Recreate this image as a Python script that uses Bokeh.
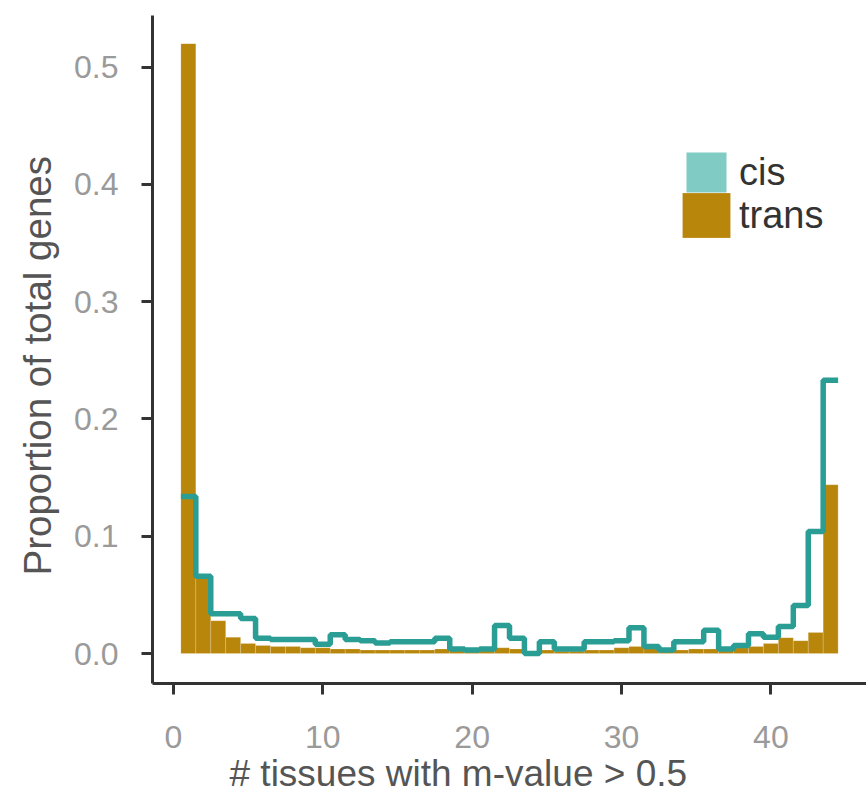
from bokeh.plotting import figure
from bokeh.models import (Range1d, FixedTicker, PrintfTickFormatter, Legend,
                          LegendItem, Title)
from bokeh.embed import file_html
from bokeh.resources import INLINE

# number of tissues (histogram bins)
bins = list(range(1, 45))

# proportion of total genes per bin
trans = [0.520, 0.064, 0.028, 0.014, 0.0085, 0.007, 0.006, 0.006, 0.005, 0.005,
         0.004, 0.004, 0.003, 0.003, 0.003, 0.003, 0.003, 0.004, 0.003, 0.003,
         0.003, 0.005, 0.004, 0.002, 0.003, 0.002, 0.002, 0.003, 0.003, 0.005,
         0.006, 0.005, 0.002, 0.003, 0.004, 0.004, 0.004, 0.005, 0.006, 0.0085,
         0.0136, 0.011, 0.018, 0.144]
cis = [0.134, 0.066, 0.034, 0.034, 0.030, 0.013, 0.012, 0.012, 0.012, 0.008,
       0.016, 0.012, 0.011, 0.009, 0.010, 0.010, 0.010, 0.013, 0.004, 0.003,
       0.004, 0.024, 0.013, 0.000, 0.010, 0.004, 0.004, 0.010, 0.010, 0.011,
       0.022, 0.006, 0.003, 0.010, 0.010, 0.020, 0.004, 0.007, 0.017, 0.014,
       0.023, 0.041, 0.104, 0.233]

x_ticks = [0, 10, 20, 30, 40]
y_ticks = [0.0, 0.1, 0.2, 0.3, 0.4, 0.5]

GOLD = "#B8860B"
TEAL = "#2A9D94"
TEAL_LIGHT = "#80CBC4"
FONT = "Liberation Sans"

p = figure(width=866, height=793, output_backend="svg", toolbar_location=None,
           x_range=Range1d(-1.4, 46.4), y_range=Range1d(-0.0255, 0.544),
           min_border_left=150, min_border_right=0, min_border_top=15,
           min_border_bottom=108)
p.outline_line_color = None
p.xgrid.visible = False
p.ygrid.visible = False

# trans: filled bars
bars = p.vbar(x=bins, top=trans, width=1.0, fill_color=GOLD, line_color="white",
              line_alpha=0.25, line_width=0.7)

# cis: outline step over the bin edges
edges = [b - 0.5 for b in bins] + [bins[-1] + 0.5]
p.step(x=edges, y=cis + [cis[-1]], mode="after", line_color=TEAL, line_width=5.5)

# zero-height bar, only used as the swatch of the cis legend entry
cis_key = p.vbar(x=bins[:1], top=[0], width=1.0, fill_color=TEAL_LIGHT,
                 line_color=None)

for ax in (p.xaxis[0], p.yaxis[0]):
    ax.axis_line_width = 3
    ax.axis_line_color = "#333333"
    ax.major_tick_line_width = 3
    ax.major_tick_line_color = "#333333"
    ax.major_tick_out = 11
    ax.major_tick_in = 0
    ax.minor_tick_line_color = None
    ax.major_label_text_font = FONT
    ax.major_label_text_font_size = "32px"
    ax.major_label_text_color = "#9A9A9A"

p.xaxis.ticker = FixedTicker(ticks=x_ticks)
p.yaxis.ticker = FixedTicker(ticks=y_ticks)
p.yaxis.formatter = PrintfTickFormatter(format="%.1f")
p.xaxis.major_label_standoff = 31
p.yaxis.major_label_standoff = 23

# axis titles sit off-centre in the original, so they are titles with an offset
x_title = Title(text="# tissues with m-value > 0.5", align="left", offset=77,
                standoff=0, text_font=FONT, text_font_size="37px",
                text_font_style="normal", text_color="#555555")
p.add_layout(x_title, "below")
y_title = Title(text="Proportion of total genes", align="left", offset=108,
                standoff=26, text_font=FONT, text_font_size="38.5px",
                text_font_style="normal", text_color="#555555")
p.add_layout(y_title, "left")

# one legend per entry so the two swatches can sit flush
legend_style = dict(padding=0, margin=0, spacing=0, label_text_font=FONT,
                    label_text_font_size="38px", label_text_color="#333333",
                    background_fill_alpha=0, border_line_color=None)
cis_legend = Legend(items=[LegendItem(label="cis", renderers=[cis_key])],
                    location=(529, 486), glyph_width=50, glyph_height=50,
                    label_standoff=8, **legend_style)
trans_legend = Legend(items=[LegendItem(label="trans", renderers=[bars])],
                      location=(524, 440), glyph_width=60, glyph_height=56,
                      label_standoff=3, **legend_style)
p.add_layout(cis_legend)
p.add_layout(trans_legend)

open("out.html", "w").write(file_html(p, INLINE))
